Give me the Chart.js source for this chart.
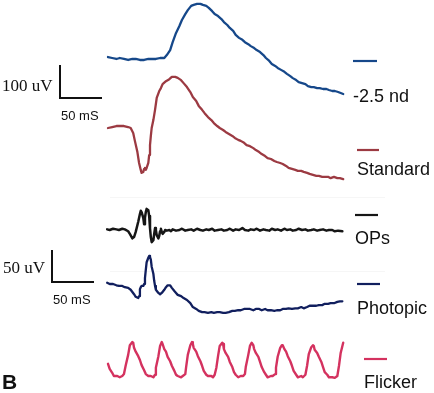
<!DOCTYPE html>
<html><head><meta charset="utf-8">
<script src="https://cdn.jsdelivr.net/npm/chart.js@4.4.1/dist/chart.umd.min.js"></script>
<style>html,body{margin:0;padding:0;background:#fff;}#wrap{width:434px;height:393px;position:relative;}</style>
</head><body><div id="wrap"><canvas id="c"></canvas></div>
<script>
// ---------- data (time in ms, amplitude in uV) ----------
const traceNames = ['-2.5 nd', 'Standard', 'OPs', 'Photopic', 'Flicker'];

const ndTime = [0,5,10,14,19,24,29,33,38,43, 48,52,57,62,67,70,74,77,81,85,
  88,92,95,99,102,106,110,113,117,120, 124,127,131,135,138,142,145,149,152,156,
  160,163,167,170,174,177,181,185,188,192, 195,199,202,206,210,213,217,220,224,227,
  231,235,238,242,245,249,252,256,260,263, 267,270,274,277,280];
const ndValue = [3,0,-3,0,-3,-6,-3,-3,-6,-6, -3,-3,-3,0,0,9,24,48,76,97,
  115,133,145,158,161,164,164,161,158,152, 142,133,127,118,109,100,91,82,70,61,
  55,48,42,36,30,24,18,9,0,-9, -18,-24,-30,-36,-42,-48,-55,-61,-67,-73,
  -76,-79,-85,-88,-88,-91,-91,-94,-94,-97, -100,-100,-103,-106,-109];

const stdTime = [0,5,10,14,19,24,27,30,32,35, 37,39,40,42,43,44,45,46,48,49,
  50,51,52,54,56,58,61,63,65,69, 73,76,80,83,87,90,94,98,101,105,
  108,112,115,119,123,126,130,133,137,140, 144,148,151,155,158,162,165,169,173,176,
  180,183,187,190,194,198,201,205,208,212, 215,219,223,226,230,233,237,240,244,248,
  251,255,258,262,265,269,273,276,280];
const stdValue = [0,3,6,6,6,3,0,-15,-39,-73, -106,-127,-136,-133,-124,-121,-127,-121,-106,-82,
  -52,-24,0,24,55,91,112,121,133,142, 148,155,155,152,145,136,124,109,94,82,
  67,55,45,33,24,15,6,0,-6,-12, -18,-24,-30,-36,-39,-45,-52,-55,-61,-67,
  -73,-79,-85,-91,-94,-100,-103,-106,-109,-115, -121,-124,-127,-130,-130,-133,-136,-139,-142,-145,
  -145,-148,-148,-148,-152,-148,-152,-152,-155];

const opsTime = [-1,2,6,10,13,17,20,24,26,29, 31,33,36,38,39,40,42,43,44,45,
  46,48,49,50,51,52,54,55,56,57, 58,60,61,62,63,64,65,67,68,70,
  73,75,77,81,85,88,92,95,99,102, 106,110,113,117,120,124,127,131,135,138,
  142,145,149,152,156,160,163,167,170,174, 177,181,185,188,192,195,199,202,206,210,
  213,217,220,224,227,231,235,238,242,245, 249,252,256,260,263,267,270,274,279];
const opsValue = [1,0,2,1,0,2,1,-2,-6,-13, -11,-3,13,25,30,28,19,9,19,28,
  33,31,22,3,-11,-19,-16,-6,3,0, -8,-13,-9,-2,2,-3,-6,-3,0,-1,
  0,-2,1,-1,0,2,-1,0,1,-1, 2,0,-1,1,0,2,-1,0,1,-1,
  0,2,-1,1,0,3,0,-1,1,0, 2,-1,1,0,-1,2,0,1,-1,2,
  0,1,-1,0,2,0,1,-1,0,1, -1,0,1,-1,0,0,-2,-1,-2];

const phoTime = [-1,2,6,10,13,17,20,24,27,31, 33,36,37,38,39,40,42,43,44,45,
  46,48,49,50,51,52,54,55,56,57, 60,62,64,67,69,71,74,76,79,81,
  83,87,90,94,98,101,105,108,112,115, 119,123,126,130,133,137,140,144,148,151,
  155,158,162,165,169,173,176,180,183,187, 190,194,198,201,205,208,212,215,219,223,
  226,230,233,237,240,244,248,251,255,258, 262,265,269,273,276,279];
const phoValue = [2,0,0,-2,-3,-3,-5,-6,-9,-16, -20,-22,-19,-8,-5,-3,-3,0,9,22,
  34,41,44,42,38,27,16,5,-3,-9, -14,-16,-14,-9,-5,-2,-2,-6,-11,-14,
  -17,-19,-22,-25,-30,-36,-39,-42,-44,-44, -45,-44,-45,-44,-44,-45,-45,-44,-42,-42,
  -41,-41,-39,-39,-39,-41,-39,-39,-41,-39, -41,-41,-42,-41,-41,-39,-39,-38,-39,-38,
  -38,-36,-38,-36,-34,-34,-34,-33,-33,-31, -31,-30,-30,-28,-27,-27];

const flkTime = [0,2,5,7,11,14,17,19,
  21,24,26,29,30,31,33,36,38,40,43,45,48,51,54,56,
  57,60,62,64,65,67,69,71,74,76,79,81,83,87,89,92,
  93,95,98,100,101,102,105,107,110,112,114,117,119,123,125,127,
  129,131,133,136,137,138,140,143,145,148,150,152,155,158,161,163,
  164,167,169,171,173,174,176,179,181,183,186,188,190,194,196,199,
  200,202,205,207,208,210,212,214,217,219,221,224,226,230,232,235,
  237,239,242,244,245,246,249,251,254,256,258,261,263,267,270,273,
  275,277,280];
const flkValue = [19,11,5,0,0,-2,0,3,
  16,33,48,53,52,44,38,31,25,17,9,3,0,0,-2,2,
  13,31,47,53,50,42,38,30,23,16,8,2,0,-2,0,3,
  14,33,48,53,50,44,38,31,23,16,8,2,0,0,-2,2,
  13,31,47,52,50,42,36,30,22,14,6,2,-2,0,0,3,
  14,33,47,52,48,42,36,30,22,14,6,2,-2,0,0,3,
  13,30,44,48,48,42,38,31,23,16,8,2,-2,0,-2,2,
  16,34,45,48,47,41,36,30,22,14,6,2,-2,-2,-3,0,
  16,36,52];

const traceTimes = [ndTime, stdTime, opsTime, phoTime, flkTime];
const traceValues = [ndValue, stdValue, opsValue, phoValue, flkValue];

const scaleBarMs = 50;
const scaleBarUv = [100, 50];
const scaleBarUvLabels = ['100 uV', '50 uV'];
const scaleBarMsLabel = '50 mS';
const panelLetter = 'B';

// ---------- layout & style ----------
const W = 434, H = 393;
const X0_PX = 108, PX_PER_MS = 42 / 50;
const traceBasePx = [58, 128, 230, 284, 376];
const tracePxPerUv = [0.33, 0.33, 0.64, 0.64, 0.64];
const traceColors = ['#16488a', '#9c3a42', '#161616', '#111f5e', '#d4325f'];
const traceWidths = [2.3, 2.3, 2.5, 2.3, 2.4];
const legendLine = [[353, 377, 61], [357, 379, 150], [355, 378, 215], [357, 380, 284], [364, 387, 359]];
const legendText = [[353, 97], [357, 170], [355, 239], [357, 309], [364, 383]];
const barCorner = [[60, 98, 0.33], [52, 282, 0.64]];
const barUvText = [[2, 87], [3, 269]];
const barMsText = [[61, 116], [53, 300]];

function yAxis(basePx, pxPerUv) {
  return { type: 'linear', display: false, min: (basePx - H) / pxPerUv, max: basePx / pxPerUv };
}
const scales = {
  x: { type: 'linear', display: false, min: -X0_PX / PX_PER_MS, max: (W - X0_PX) / PX_PER_MS }
};
const datasets = [];
traceTimes.forEach((times, i) => {
  scales['y' + i] = yAxis(traceBasePx[i], tracePxPerUv[i]);
  datasets.push({
    label: traceNames[i],
    data: times.map((t, k) => ({ x: t, y: traceValues[i][k] })),
    xAxisID: 'x', yAxisID: 'y' + i,
    borderColor: traceColors[i], borderWidth: traceWidths[i],
    pointRadius: 0, tension: 0, fill: false, borderJoinStyle: 'round', borderCapStyle: 'round'
  });
});
barCorner.forEach((c, i) => {
  scales['s' + i] = yAxis(c[1], c[2]);
  const t0 = (c[0] - X0_PX) / PX_PER_MS;
  datasets.push({
    label: 'bar' + i,
    data: [{ x: t0, y: scaleBarUv[i] }, { x: t0, y: 0 }, { x: t0 + scaleBarMs, y: 0 }],
    xAxisID: 'x', yAxisID: 's' + i,
    borderColor: '#111', borderWidth: 2, pointRadius: 0, tension: 0, fill: false
  });
});

const annot = {
  id: 'annot',
  beforeDatasetsDraw(chart) {
    const ctx = chart.ctx;
    ctx.save();
    ctx.strokeStyle = 'rgba(0,0,0,0.035)';
    ctx.lineWidth = 1;
    [[110, 385, 197.5], [110, 385, 271.5]].forEach(l => {
      ctx.beginPath(); ctx.moveTo(l[0], l[2]); ctx.lineTo(l[1], l[2]); ctx.stroke();
    });
    ctx.restore();
  },
  afterDraw(chart) {
    const ctx = chart.ctx;
    ctx.save();
    ctx.lineWidth = 2.2;
    legendLine.forEach((l, i) => {
      ctx.strokeStyle = traceColors[i];
      ctx.beginPath(); ctx.moveTo(l[0], l[2]); ctx.lineTo(l[1], l[2]); ctx.stroke();
    });
    ctx.fillStyle = '#111';
    ctx.textBaseline = 'middle';
    ctx.textAlign = 'left';
    ctx.font = '18px "Liberation Sans", Arial, sans-serif';
    legendText.forEach((p, i) => ctx.fillText(traceNames[i], p[0], p[1]));
    ctx.font = '17px "Liberation Serif", "Times New Roman", serif';
    barUvText.forEach((p, i) => ctx.fillText(scaleBarUvLabels[i], p[0], p[1]));
    ctx.font = '13px "Liberation Sans", Arial, sans-serif';
    barMsText.forEach(p => ctx.fillText(scaleBarMsLabel, p[0], p[1]));
    ctx.font = 'bold 21px "Liberation Sans", Arial, sans-serif';
    ctx.fillText(panelLetter, 2, 383);
    ctx.restore();
  }
};

new Chart(document.getElementById('c'), {
  type: 'line',
  data: { datasets },
  options: {
    responsive: true, maintainAspectRatio: false, animation: false,
    layout: { padding: 0 },
    plugins: { legend: { display: false }, tooltip: { enabled: false } },
    events: [],
    scales
  },
  plugins: [annot]
});
</script></body></html>
